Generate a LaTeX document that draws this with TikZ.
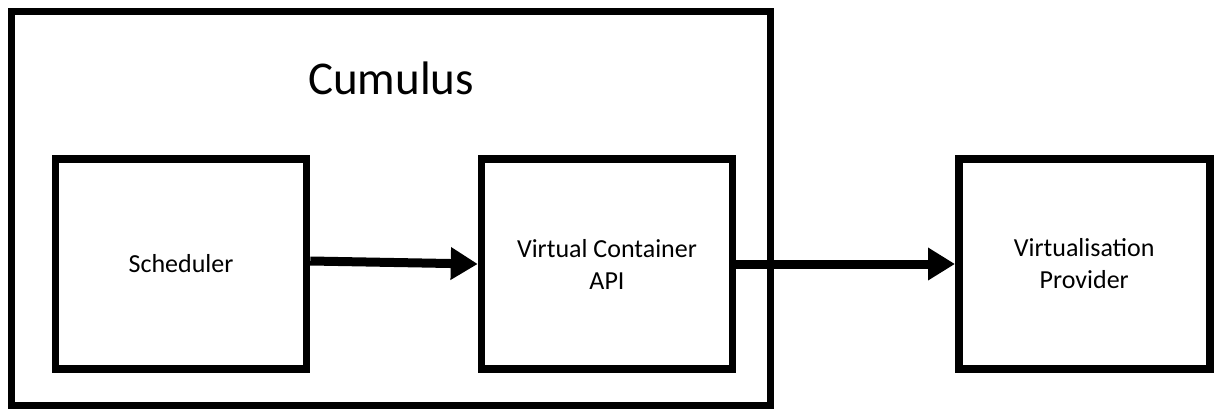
\documentclass[tikz,border=0pt]{standalone}
\usepackage{fontspec}
\setmainfont{Carlito}
\usetikzlibrary{arrows.meta}

\tikzset{
  block/.style={draw=black, line width=7.5pt, fill=white, align=center,
    minimum width=251pt, minimum height=210pt, inner sep=0pt,
    font=\fontsize{26pt}{32pt}\selectfont},
  frame/.style={draw=black, line width=7pt, minimum width=758.5pt,
    minimum height=393.5pt, inner sep=0pt},
  title/.style={font=\fontsize{47pt}{56pt}\selectfont},
  flow/.style={line width=9pt, -{Triangle[length=27pt,width=31pt]}}
}

\begin{document}
\begin{tikzpicture}[x=1pt, y=-1pt]
  \useasboundingbox (0,0) rectangle (1216,412);

  % system boundary
  \node[frame] (cumulus) at (390.75,208.25) {};
  \node[title] (cumulustitle) at (391,78) {Cumulus};

  % components
  \node[block] (sched) at (181,264) {Scheduler};
  \node[block] (vca) at (607,264) {Virtual Container\\API};
  \node[block] (vp) at (1084.25,264) {Virtualisation\\Provider};

  % data flow
  \draw[flow] ([yshift=3pt]sched.east) -- (vca.west);
  \draw[flow] (vca.east) -- (vp.west);
\end{tikzpicture}
\end{document}
